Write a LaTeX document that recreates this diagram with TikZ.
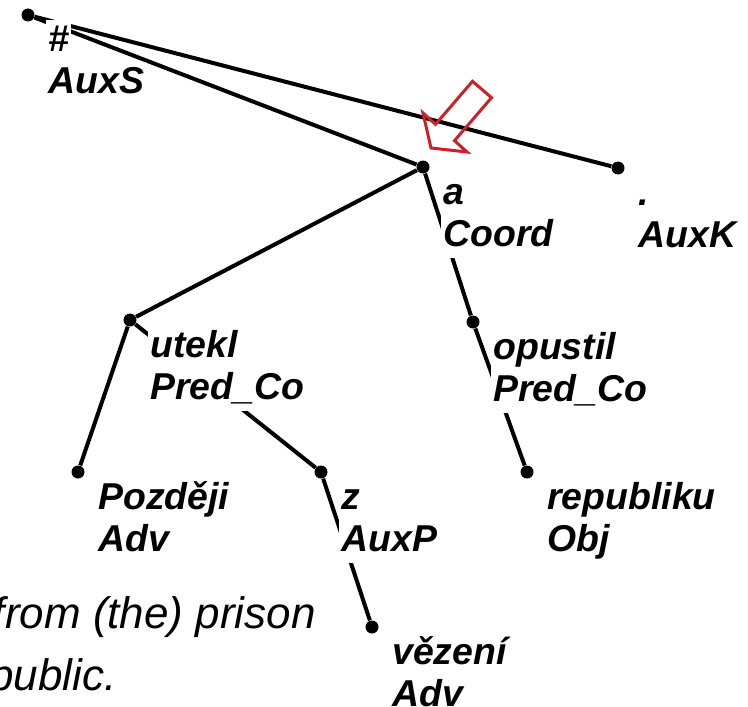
\documentclass[tikz,border=0pt]{standalone}
\usepackage{fontspec}
\setmainfont{Liberation Sans}
\definecolor{pointred}{RGB}{206,32,40}

\begin{document}
\begin{tikzpicture}[x=0.5pt, y=-0.5pt,
	dot/.style={circle, fill=black, inner sep=0pt, minimum size=6.5pt},
	edge/.style={line width=2pt},
	lbl/.style={anchor=base west, fill=white, inner sep=1pt, text height=15pt, text depth=5pt, font=\fontsize{18.7}{21}\selectfont\bfseries\itshape},
	note/.style={anchor=base east, inner sep=0pt, font=\fontsize{22}{28}\selectfont\itshape},
	pointer/.style={draw=pointred, line width=1.5pt, line join=miter}]

	\useasboundingbox (0,0) rectangle (748,706);

	\node[dot] (root) 	at (28,15) 	{};
	\node[dot] (a) 		at (423,167) 	{};
	\node[dot] (auxk) 	at (618,168) 	{};
	\node[dot] (utekl) 	at (130,320) 	{};
	\node[dot] (opustil) 	at (473,322) 	{};
	\node[dot] (pozdeji) 	at (78,472) 	{};
	\node[dot] (z) 		at (321,472) 	{};
	\node[dot] (republiku) at (527,472) 	{};
	\node[dot] (vezeni) 	at (372,627) 	{};

	\draw[edge] (root) -- (a);
	\draw[edge] (root) -- (auxk);
	\draw[edge] (a) -- (utekl);
	\draw[edge] (a) -- (opustil);
	\draw[edge] (utekl) -- (pozdeji);
	\draw[edge] (utekl) -- (z);
	\draw[edge] (opustil) -- (republiku);
	\draw[edge] (z) -- (vezeni);

	% word form and afun under each node
	\foreach \n/\w/\f in {root/\#/AuxS, a/a/Coord, auxk/./AuxK, utekl/utekl/Pred\_Co, opustil/opustil/Pred\_Co,
		pozdeji/Později/Adv, z/z/AuxP, republiku/republiku/Obj, vezeni/vězení/Adv}
	{
		\node[lbl] (\n word) at ([shift={(18,37)}]\n.center) {\w};
		\node[lbl] (\n func) at ([shift={(0,42)}]\n word.base west) {\f};
	}

	\node[note] (gloss1) at (316,628) {from (the) prison};
	\node[note] (gloss2) at (117,690) {republic.};

	\draw[pointer] (431,148) -- (467,152) -- (454.5,140.7) -- (491.5,97.7) -- (472.5,81.3) -- (435.5,124.3) -- (423,113) -- cycle;

\end{tikzpicture}
\end{document}
